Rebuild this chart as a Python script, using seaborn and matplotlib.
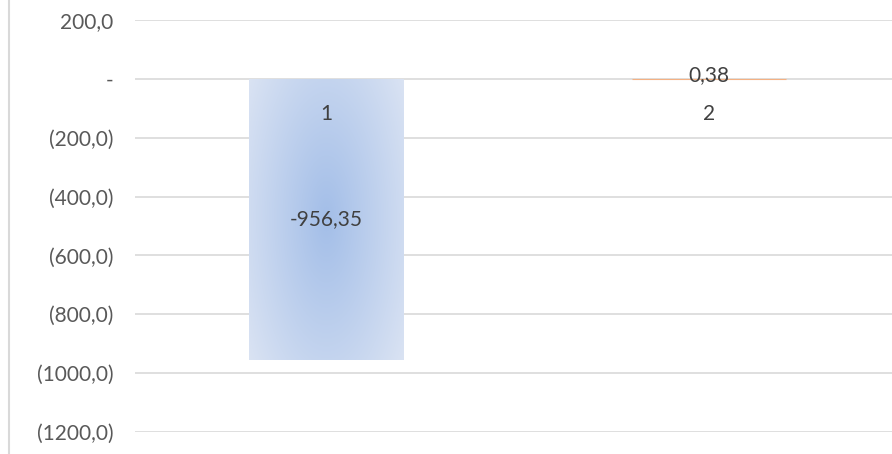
import numpy as np
import matplotlib
matplotlib.use("Agg")
import matplotlib.pyplot as plt
import seaborn as sns
from matplotlib.lines import Line2D

# chart data
categories = ["1", "2"]
values = [-956.35, 0.38]
value_labels = ["-956,35", "0,38"]
y_ticks = [200, 0, -200, -400, -600, -800, -1000, -1200]
y_tick_labels = ["200,0", "-", "(200,0)", "(400,0)", "(600,0)", "(800,0)", "(1000,0)", "(1200,0)"]

sns.set_style("white")
plt.rcParams["font.family"] = ["Lato", "DejaVu Sans"]
text_color = "#595959"

fig = plt.figure(figsize=(8.92, 4.54), dpi=100)
ax = fig.add_axes([135 / 892, 1 - 432 / 454, 765 / 892, 412 / 454])

sns.barplot(x=categories, y=values, hue=categories, palette=["#b4c7e7", "#f4b183"],
            width=0.403, legend=False, ax=ax, zorder=2)

ax.set_ylim(-1200, 200)
ax.set_xlim(-0.5, 1.5)
ax.set_yticks(y_ticks)
ax.set_yticklabels(y_tick_labels, color=text_color, fontsize=15)
ax.set_xticks([])
ax.tick_params(axis="y", length=0, pad=15.5)
for s in ax.spines.values():
    s.set_visible(False)
ax.grid(axis="y", color="#d9d9d9", linewidth=1.2, zorder=0)
ax.set_axisbelow(True)

# radial gradient fill for the big bar, thin line for the tiny one
patches = ax.patches
p1 = patches[0]
x0, w = p1.get_x(), p1.get_width()
y0, h = p1.get_y(), p1.get_height()
ylo, yhi = min(y0, y0 + h), max(y0, y0 + h)
n = 300
gx, gy = np.meshgrid(np.linspace(-1, 1, n), np.linspace(-1, 1, n))
r = np.clip(np.sqrt(gx ** 2 + (gy * 0.75) ** 2) / 1.25, 0, 1)
inner = np.array([163, 190, 232]) / 255
outer = np.array([218, 227, 243]) / 255
img = inner[None, None, :] * (1 - r[..., None]) + outer[None, None, :] * r[..., None]
im = ax.imshow(img, extent=[x0, x0 + w, ylo, yhi], aspect="auto", zorder=3, origin="upper")
im.set_clip_path(p1)
p1.set_edgecolor("none")
p2 = patches[1]
p2.set_edgecolor("#f4b183")
p2.set_linewidth(0.8)
ax.set_xlim(-0.5, 1.5)
ax.set_ylim(-1200, 200)

# labels
for i, (v, lab) in enumerate(zip(values, value_labels)):
    ypos = v / 2 if abs(v) > 50 else 12
    ax.text(i, ypos, lab, ha="center", va="center", fontsize=15, color="#404040", zorder=5)
    ax.text(i, -118, categories[i], ha="center", va="center", fontsize=15, color="#404040", zorder=5)

fig.add_artist(Line2D([9 / 892, 9 / 892], [0, 1], color="#d9d9d9", linewidth=1.5))

fig.savefig("out.png", dpi=100)
